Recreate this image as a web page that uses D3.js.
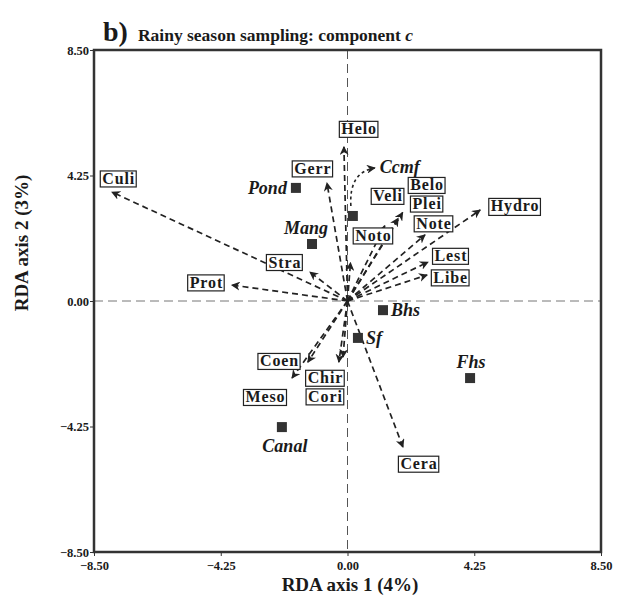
<!DOCTYPE html>
<html>
<head>
<meta charset="utf-8">
<script src="https://cdn.jsdelivr.net/npm/d3@7"></script>
<style>
  body { margin: 0; background: #fff; }
  svg text { font-family: "Liberation Serif", "DejaVu Serif", serif; font-weight: bold; fill: #1a1a1a; }
</style>
</head>
<body>
<div id="app"></div>
<script>
// tick labels
var tickVals = [-8.5, -4.25, 0, 4.25, 8.5];

// species (arrows with boxed labels): arrow tip and label centre, RDA units
var spNames = ['Culi', 'Prot', 'Stra', 'Gerr', 'Helo', 'Veli', 'Belo', 'Plei', 'Note', 'Hydro', 'Lest', 'Libe', 'Noto', 'Coen', 'Meso', 'Chir', 'Cori', 'Cera'];
var spX  = [-7.90, -3.88, -1.26, -0.69, -0.12, 1.25, 1.85, 1.70, 2.60, 4.45, 2.70, 2.67, 0.10, -1.33, -1.86, -0.29, -0.15, 1.86];
var spY  = [ 3.69,  0.54,  0.98,  4.00,  5.22, 2.55, 3.00, 2.80, 2.24, 3.08, 1.32, 0.88, 1.30, -2.07, -2.61, -2.07, -1.90, -4.95];
var spLX = [-7.67, -4.73, -2.10, -1.16,  0.39, 1.36, 2.67, 2.67, 2.90, 5.62, 3.47, 3.46, 0.87, -2.28, -2.75, -0.74, -0.74, 2.40];
var spLY = [ 4.15,  0.63,  1.32,  4.49,  5.83, 3.56, 3.93, 3.30, 2.63, 3.22, 1.53, 0.80, 2.22, -2.03, -3.25, -2.60, -3.23, -5.51];

// environmental variables (squares, italic labels)
var envNames = ['Pond', 'Mang', 'Ccmf', 'Bhs', 'Sf', 'Fhs', 'Canal'];
var envX = [-1.73, -1.19, 0.18, 1.19, 0.35, 4.11, -2.20];
var envY = [ 3.83,  1.93, 2.88, -0.31, -1.25, -2.61, -4.27];
var envSide = ['left', 'aboveleft', 'curve', 'right', 'right', 'above', 'below'];

var W = 620, H = 598;
var svg = d3.select('#app').append('svg').attr('width', W).attr('height', H);

var x = d3.scaleLinear().domain([-8.5, 8.5]).range([94, 601]);
var y = d3.scaleLinear().domain([-8.5, 8.5]).range([552, 50]);

var defs = svg.append('defs');
defs.append('marker').attr('id', 'head')
  .attr('viewBox', '0 0 10 10').attr('refX', 9).attr('refY', 5)
  .attr('markerWidth', 9).attr('markerHeight', 9).attr('markerUnits', 'userSpaceOnUse')
  .attr('orient', 'auto')
  .append('path').attr('d', 'M0,0 L10,5 L0,10 L3,5 Z').attr('fill', '#222');

// zero lines
svg.append('line').attr('x1', x(0)).attr('x2', x(0)).attr('y1', y(8.5)).attr('y2', y(-8.5))
  .attr('stroke', '#555').attr('stroke-width', 1).attr('stroke-dasharray', '9,5');
svg.append('line').attr('x1', x(-8.5)).attr('x2', x(8.5)).attr('y1', y(0)).attr('y2', y(0))
  .attr('stroke', '#777').attr('stroke-width', 1).attr('stroke-dasharray', '9,5');

// axes
var xAxis = d3.axisBottom(x).tickValues(tickVals).tickSize(4).tickFormat(d3.format('.2f'));
var yAxis = d3.axisLeft(y).tickValues(tickVals).tickSize(4).tickFormat(d3.format('.2f'));
var gx = svg.append('g').attr('transform', 'translate(0,' + y(-8.5) + ')').call(xAxis);
var gy = svg.append('g').attr('transform', 'translate(' + x(-8.5) + ',0)').call(yAxis);
[gx, gy].forEach(function(g) {
  g.select('.domain').remove();
  g.selectAll('.tick line').attr('stroke', '#333');
  g.selectAll('.tick text').style('font-family', '"Liberation Serif", serif')
    .style('font-weight', 'bold').style('font-size', '12.5px').attr('fill', '#1a1a1a');
});
gx.selectAll('.tick text').attr('dy', '0.85em');
gy.selectAll('.tick text').attr('x', -5);

// frame
svg.append('rect').attr('x', x(-8.5)).attr('y', y(8.5))
  .attr('width', x(8.5) - x(-8.5)).attr('height', y(-8.5) - y(8.5))
  .attr('fill', 'none').attr('stroke', '#333').attr('stroke-width', 2.5);

// species arrows
svg.selectAll('.arrow').data(spNames).enter().append('line').attr('class', 'arrow')
  .attr('x1', x(0)).attr('y1', y(0))
  .attr('x2', function(d, i) { return x(spX[i]); })
  .attr('y2', function(d, i) { return y(spY[i]); })
  .attr('stroke', '#222').attr('stroke-width', 1.7).attr('stroke-dasharray', '6,4')
  .attr('marker-end', 'url(#head)');

// env squares
svg.selectAll('.sq').data(envNames).enter().append('rect').attr('class', 'sq')
  .attr('x', function(d, i) { return x(envX[i]) - 5; })
  .attr('y', function(d, i) { return y(envY[i]) - 5; })
  .attr('width', 10).attr('height', 10).attr('fill', '#333');

// Ccmf curved dotted pointer
var ci = envNames.indexOf('Ccmf');
var cp = d3.path();
cp.moveTo(x(envX[ci]) - 2, y(envY[ci]) - 10);
cp.quadraticCurveTo(x(envX[ci]) - 4, y(envY[ci]) - 44, x(envX[ci]) + 22, y(envY[ci]) - 48);
svg.append('path').attr('d', cp.toString()).attr('fill', 'none').attr('stroke', '#222')
  .attr('stroke-width', 1.6).attr('stroke-dasharray', '3,3').attr('marker-end', 'url(#head)');

// env labels
svg.selectAll('.env').data(envNames).enter().append('text').attr('class', 'env')
  .style('font-style', 'italic').style('font-size', '18px')
  .text(function(d) { return d; })
  .each(function(d, i) {
    var t = d3.select(this), px = x(envX[i]), py = y(envY[i]);
    var s = envSide[i];
    if (s === 'left') t.attr('x', px - 9).attr('y', py + 6).attr('text-anchor', 'end');
    else if (s === 'aboveleft') t.attr('x', px + 16).attr('y', py - 10).attr('text-anchor', 'end');
    else if (s === 'right') t.attr('x', px + 8).attr('y', py + 6).attr('text-anchor', 'start');
    else if (s === 'above') t.attr('x', px + 1).attr('y', py - 10).attr('text-anchor', 'middle');
    else if (s === 'below') t.attr('x', px + 3).attr('y', py + 25).attr('text-anchor', 'middle');
    else t.attr('x', px + 27).attr('y', py - 43).attr('text-anchor', 'start');
  });

// boxed species labels
var lab = svg.selectAll('.lab').data(spNames).enter().append('g').attr('class', 'lab');
lab.append('text')
  .attr('x', function(d, i) { return x(spLX[i]); })
  .attr('y', function(d, i) { return y(spLY[i]) + 5.5; })
  .attr('text-anchor', 'middle').style('font-size', '16px').style('letter-spacing', '0.9px')
  .text(function(d) { return d; });
lab.each(function() {
  var g = d3.select(this), b = g.select('text').node().getBBox();
  g.insert('rect', 'text').attr('x', b.x - 2).attr('y', b.y + 1)
    .attr('width', b.width + 3).attr('height', b.height - 1)
    .attr('fill', '#fff').attr('stroke', '#222').attr('stroke-width', 1.2);
});

// title
var title = svg.append('text').attr('x', 103).attr('y', 41);
title.append('tspan').style('font-size', '28px').text('b)');
title.append('tspan').attr('dx', 10).style('font-size', '17.5px').text('Rainy season sampling: component ');
title.append('tspan').style('font-size', '17.5px').style('font-style', 'italic').text('c');

// axis titles
svg.append('text').attr('x', 350).attr('y', 591).attr('text-anchor', 'middle')
  .style('font-size', '19px').text('RDA axis 1 (4%)');
svg.append('text').attr('transform', 'translate(28,243) rotate(-90)').attr('text-anchor', 'middle')
  .style('font-size', '19px').text('RDA axis 2 (3%)');
</script>
</body>
</html>
